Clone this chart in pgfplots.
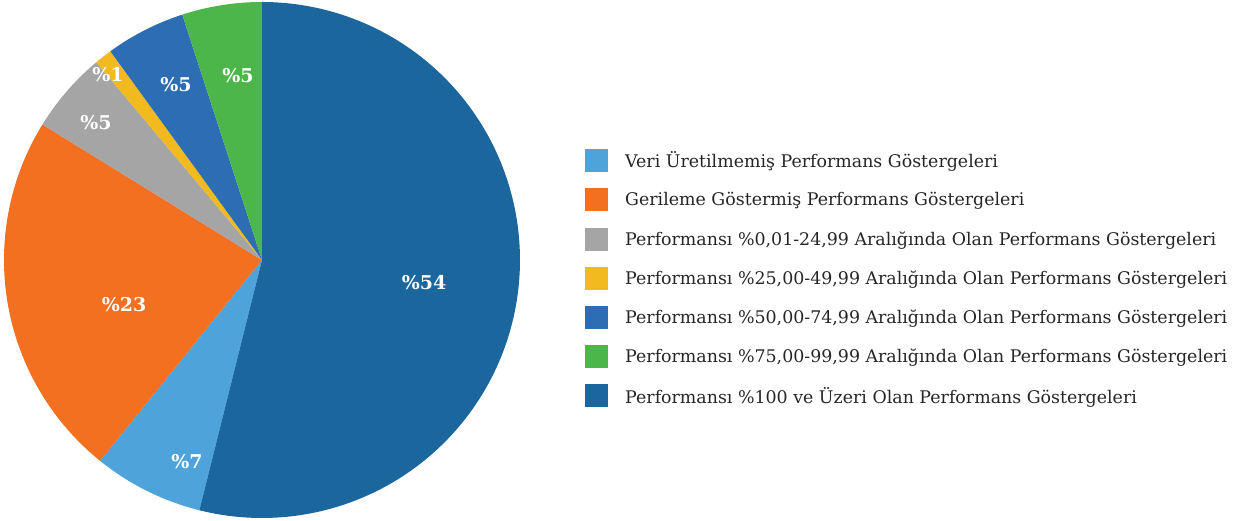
\documentclass[border=0pt]{standalone}
\usepackage{pgfplots}
\pgfplotsset{compat=1.18}
\usepackage{fontspec}
\setmainfont{DejaVu Serif}
\definecolor{cLight}{HTML}{4FA3DB}
\definecolor{cOrange}{HTML}{F37021}
\definecolor{cGray}{HTML}{A5A5A5}
\definecolor{cYellow}{HTML}{F2BA1F}
\definecolor{cBlue}{HTML}{2C6DB4}
\definecolor{cGreen}{HTML}{4DB64A}
\definecolor{cDark}{HTML}{1A669D}
\definecolor{cText}{HTML}{262626}
% slice values (percent), clockwise from 12 o'clock
\def\vDark{53.9}
\def\vLight{6.9}
\def\vOrange{23.0}
\def\vGray{5.1}
\def\vYellow{1.1}
\def\vBlue{5.0}
\def\vGreen{5.0}
\pgfmathsetmacro{\aA}{0}
\pgfmathsetmacro{\aB}{\aA+3.6*\vDark}
\pgfmathsetmacro{\aC}{\aB+3.6*\vLight}
\pgfmathsetmacro{\aD}{\aC+3.6*\vOrange}
\pgfmathsetmacro{\aE}{\aD+3.6*\vGray}
\pgfmathsetmacro{\aF}{\aE+3.6*\vYellow}
\pgfmathsetmacro{\aG}{\aF+3.6*\vBlue}
\pgfmathsetmacro{\aH}{\aG+3.6*\vGreen}
\def\cx{262}\def\cy{261}\def\R{258}
\begin{document}
\begin{tikzpicture}
\begin{axis}[
  width=1248pt, height=521pt, scale only axis,
  xmin=0, xmax=1248, ymin=0, ymax=521,
  hide axis, clip=false,
  legend cell align=left,
  legend style={at={(axis cs:585,372)}, anchor=north west, draw=none, fill=none,
    inner sep=0pt, row sep=16.2pt,
    font=\fontsize{17.4}{20}\selectfont\color{cText},
    nodes={inner sep=0pt}},
  legend image code/.code={\fill[#1] (0pt,-11.5pt) rectangle (23pt,11.5pt); \path (40pt,0pt);},
]
\addplot[draw=none, forget plot] coordinates {(0,0) (1248,521)};
\addplot[fill=cLight, draw=none, domain=\aB:\aC, samples=40]
  ({\cx+\R*sin(x)},{\cy+\R*cos(x)}) -- (axis cs:\cx,\cy) -- cycle;
\addlegendentry{Veri Üretilmemiş Performans Göstergeleri}
\addplot[fill=cOrange, draw=none, domain=\aC:\aD, samples=80]
  ({\cx+\R*sin(x)},{\cy+\R*cos(x)}) -- (axis cs:\cx,\cy) -- cycle;
\addlegendentry{Gerileme Göstermiş Performans Göstergeleri}
\addplot[fill=cGray, draw=none, domain=\aD:\aE, samples=30]
  ({\cx+\R*sin(x)},{\cy+\R*cos(x)}) -- (axis cs:\cx,\cy) -- cycle;
\addlegendentry{Performansı \%0,01-24,99 Aralığında Olan Performans Göstergeleri}
\addplot[fill=cYellow, draw=none, domain=\aE:\aF, samples=10]
  ({\cx+\R*sin(x)},{\cy+\R*cos(x)}) -- (axis cs:\cx,\cy) -- cycle;
\addlegendentry{Performansı \%25,00-49,99 Aralığında Olan Performans Göstergeleri}
\addplot[fill=cBlue, draw=none, domain=\aF:\aG, samples=30]
  ({\cx+\R*sin(x)},{\cy+\R*cos(x)}) -- (axis cs:\cx,\cy) -- cycle;
\addlegendentry{Performansı \%50,00-74,99 Aralığında Olan Performans Göstergeleri}
\addplot[fill=cGreen, draw=none, domain=\aG:\aH, samples=30]
  ({\cx+\R*sin(x)},{\cy+\R*cos(x)}) -- (axis cs:\cx,\cy) -- cycle;
\addlegendentry{Performansı \%75,00-99,99 Aralığında Olan Performans Göstergeleri}
\addplot[fill=cDark, draw=none, domain=\aA:\aB, samples=150]
  ({\cx+\R*sin(x)},{\cy+\R*cos(x)}) -- (axis cs:\cx,\cy) -- cycle;
\addlegendentry{Performansı \%100 ve Üzeri Olan Performans Göstergeleri}
% labels
\begin{scope}[every node/.style={text=white, font=\fontsize{19}{21}\selectfont\bfseries}]
\node at (axis cs:424,238) {\%54};
\node at (axis cs:187,59) {\%7};
\node at (axis cs:124,216) {\%23};
\node at (axis cs:96,398) {\%5};
\node at (axis cs:108,446) {\%1};
\node at (axis cs:176,436) {\%5};
\node at (axis cs:238,445) {\%5};
\end{scope}
\end{axis}
\end{tikzpicture}
\end{document}
